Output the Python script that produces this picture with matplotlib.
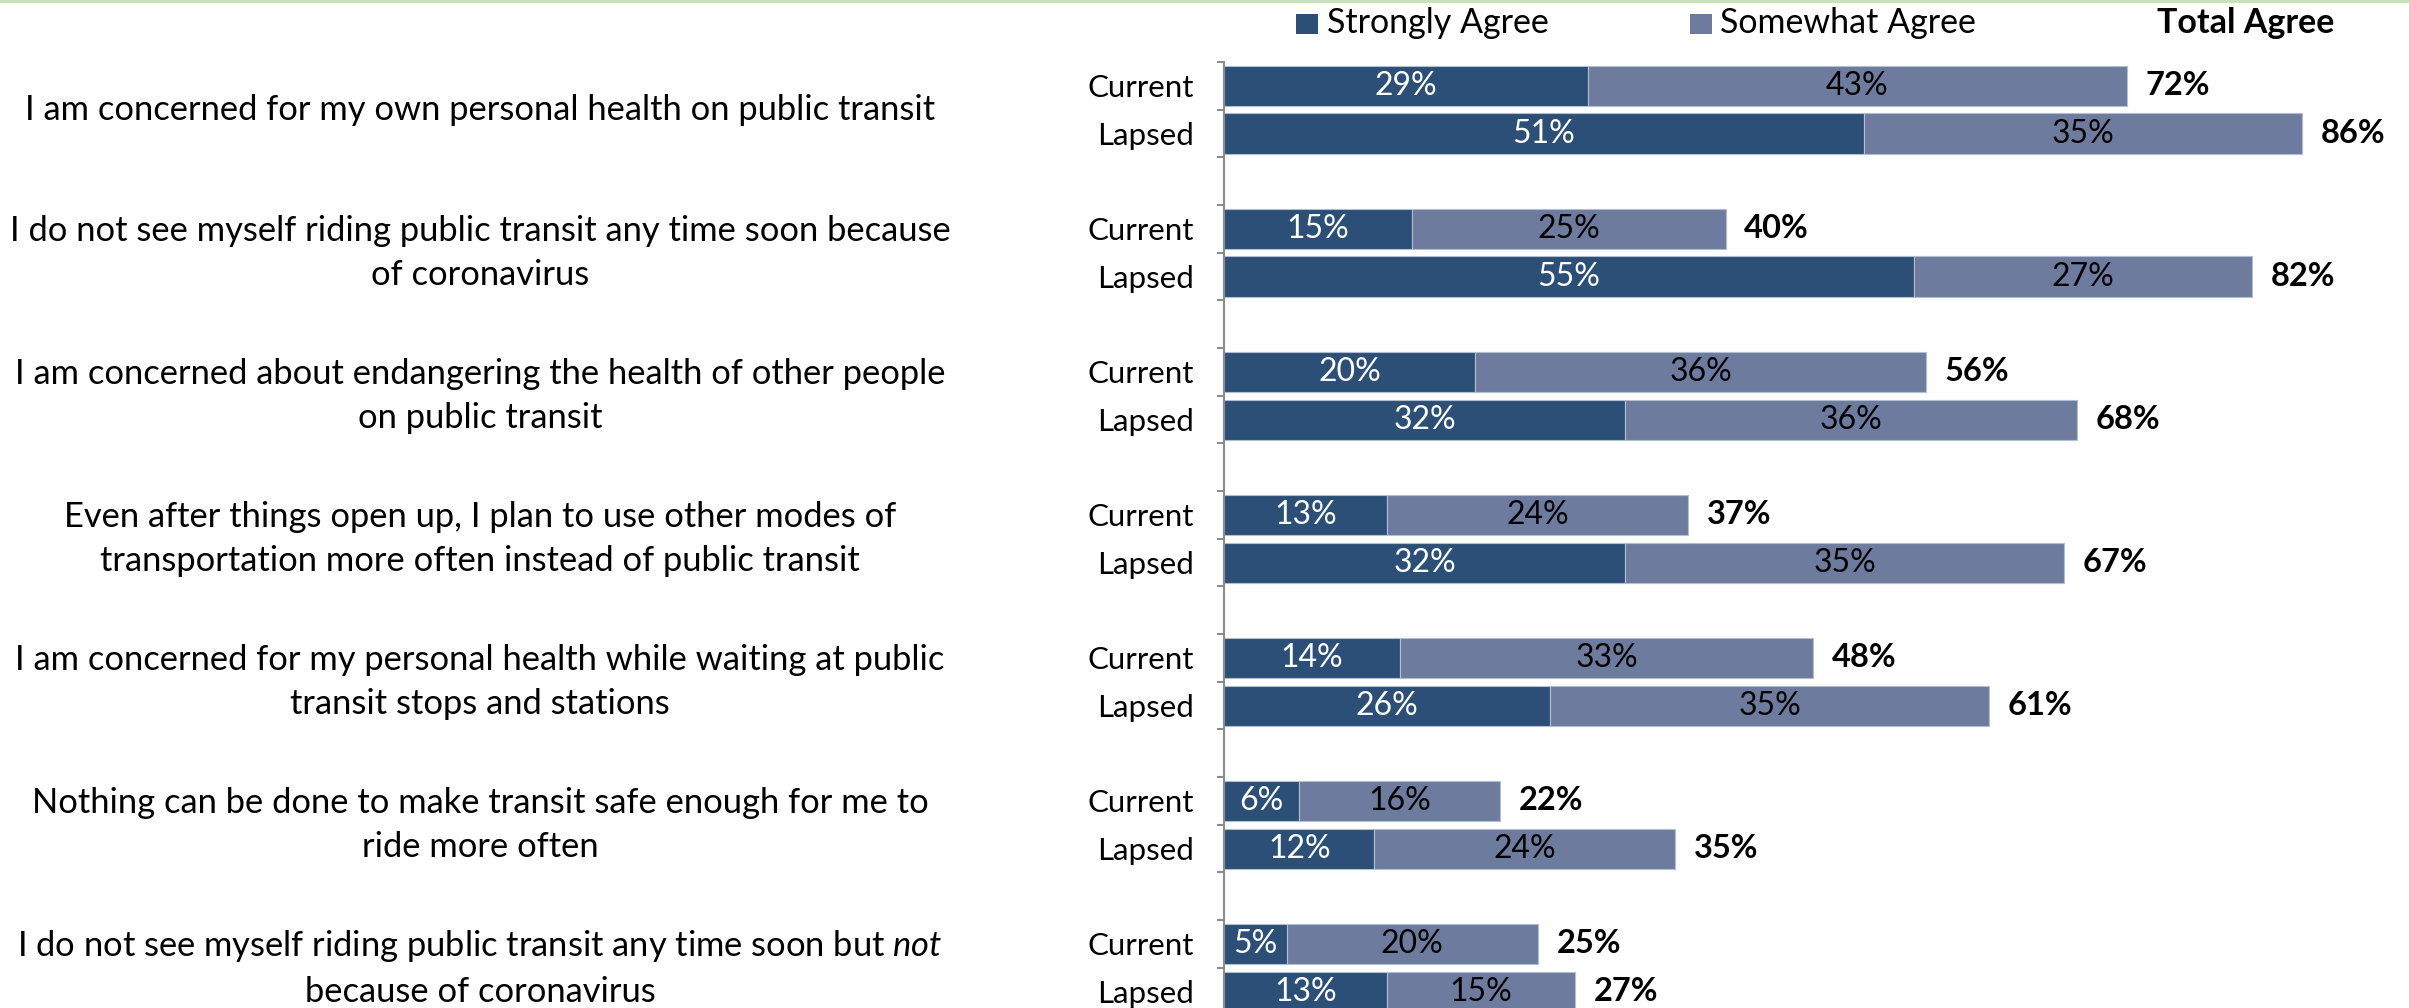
import matplotlib
matplotlib.use("Agg")
import matplotlib.pyplot as plt
from matplotlib.patches import Rectangle
from matplotlib.lines import Line2D
from matplotlib.transforms import blended_transform_factory

# ---- data -------------------------------------------------------------
statements = [
    "I am concerned for my own personal health on public transit",
    "I do not see myself riding public transit any time soon because\nof coronavirus",
    "I am concerned about endangering the health of other people\non public transit",
    "Even after things open up, I plan to use other modes of\ntransportation more often instead of public transit",
    "I am concerned for my personal health while waiting at public\ntransit stops and stations",
    "Nothing can be done to make transit safe enough for me to\nride more often",
    "I do not see myself riding public transit any time soon but $\\mathit{not}$\nbecause of coronavirus",
]
rider_groups = ["Current", "Lapsed"]
series_names = ["Strongly Agree", "Somewhat Agree"]
total_name = "Total Agree"

strong_current = [29, 15, 20, 13, 14, 6, 5]
somewhat_current = [43, 25, 36, 24, 33, 16, 20]
total_current = [72, 40, 56, 37, 48, 22, 25]

strong_lapsed = [51, 55, 32, 32, 26, 12, 13]
somewhat_lapsed = [35, 27, 36, 35, 35, 24, 15]
total_lapsed = [86, 82, 68, 67, 61, 35, 27]

# ---- style ------------------------------------------------------------
plt.rcParams['font.family'] = ['Lato', 'DejaVu Sans']
plt.rcParams['mathtext.fontset'] = 'custom'
plt.rcParams['mathtext.rm'] = 'Lato'
plt.rcParams['mathtext.it'] = 'Lato:italic'

DARK = '#2B4F76'
LIGHT = '#6D7C9E'
EDGE = '#B3BFD0'
AXIS_GREY = '#8C8C8C'
FS_BAR = 23        # values inside bars
FS_GROUP = 22.5    # Current / Lapsed
FS_TOTAL = 23.5    # bold totals
FS_LEGEND = 24.5
FS_TEXT = 24.8     # statements

W, H, DPI = 2409, 1008, 100
fig = plt.figure(figsize=(W / DPI, H / DPI), dpi=DPI)

# axes geometry in pixels
slot_px = 47.67
n_slots = 3 * len(statements)
ax_left_px, ax_top_px = 1224, 62
px_per_pct = 12.54
xmax = 90
ax_h_px = n_slots * slot_px
ax_w_px = xmax * px_per_pct
ax = fig.add_axes([ax_left_px / W, 1 - (ax_top_px + ax_h_px) / H,
                   ax_w_px / W, ax_h_px / H])
ax.set_xlim(0, xmax)
ax.set_ylim(n_slots - 0.5, -0.5)

bar_h = 0.84
rows = [
    (0, strong_current, somewhat_current, total_current),
    (1, strong_lapsed, somewhat_lapsed, total_lapsed),
]
ytick_pos, ytick_lab = [], []
for offset, strong, somewhat, total in rows:
    ys = [3 * i + offset for i in range(len(statements))]
    ax.barh(ys, strong, height=bar_h, color=DARK, edgecolor=EDGE, linewidth=0.8)
    ax.barh(ys, somewhat, left=strong, height=bar_h, color=LIGHT,
            edgecolor=EDGE, linewidth=0.8)
    for y, s, w, t in zip(ys, strong, somewhat, total):
        ax.text(s / 2, y, f"{s}%", ha='center', va='center',
                color='white', fontsize=FS_BAR)
        ax.text(s + w / 2, y, f"{w}%", ha='center', va='center',
                color='black', fontsize=FS_BAR)
        ax.annotate(f"{t}%", xy=(s + w, y), xytext=(13.5, 0),
                    textcoords='offset points', ha='left', va='center',
                    fontsize=FS_TOTAL, fontweight='bold', color='black')
        ytick_pos.append(y)
        ytick_lab.append(rider_groups[offset])

# y axis: group labels, ticks at slot boundaries
ax.set_yticks(ytick_pos)
ax.set_yticklabels(ytick_lab, fontsize=FS_GROUP)
ax.set_yticks([k - 0.5 for k in range(n_slots + 1)], minor=True)
ax.tick_params(axis='y', which='major', length=0, pad=21.5)
ax.tick_params(axis='y', which='minor', length=5, width=1.5,
               color=AXIS_GREY, direction='out')
ax.set_xticks([])
for side in ('top', 'right', 'bottom'):
    ax.spines[side].set_visible(False)
ax.spines['left'].set_color(AXIS_GREY)
ax.spines['left'].set_linewidth(1.5)

# statement labels on the left, centred on each pair of bars
trans = blended_transform_factory(fig.transFigure, ax.transData)
for i, text in enumerate(statements):
    ax.text(480 / W, 3 * i + 0.5, text, transform=trans, ha='center',
            va='center', multialignment='center', fontsize=FS_TEXT,
            linespacing=1.47, clip_on=False)

# legend row
def fx(px):
    return px / W

def fy(px):
    return 1 - px / H

for x_sq, x_txt, name, col in [(1296, 1327, series_names[0], DARK),
                               (1690, 1720, series_names[1], LIGHT)]:
    fig.add_artist(Rectangle((fx(x_sq), fy(34)), 22 / W, 20 / H,
                             transform=fig.transFigure, color=col, lw=0))
    fig.text(fx(x_txt), fy(23), name, ha='left', va='center',
             fontsize=FS_LEGEND)
fig.text(fx(2157), fy(23), total_name, ha='left', va='center',
         fontsize=FS_LEGEND, fontweight='bold')

# thin rule along the top edge
fig.add_artist(Line2D([0, 1], [fy(1), fy(1)], transform=fig.transFigure,
                      color='#C5E0B3', linewidth=2))

fig.savefig('out.png', dpi=DPI, facecolor='white')
